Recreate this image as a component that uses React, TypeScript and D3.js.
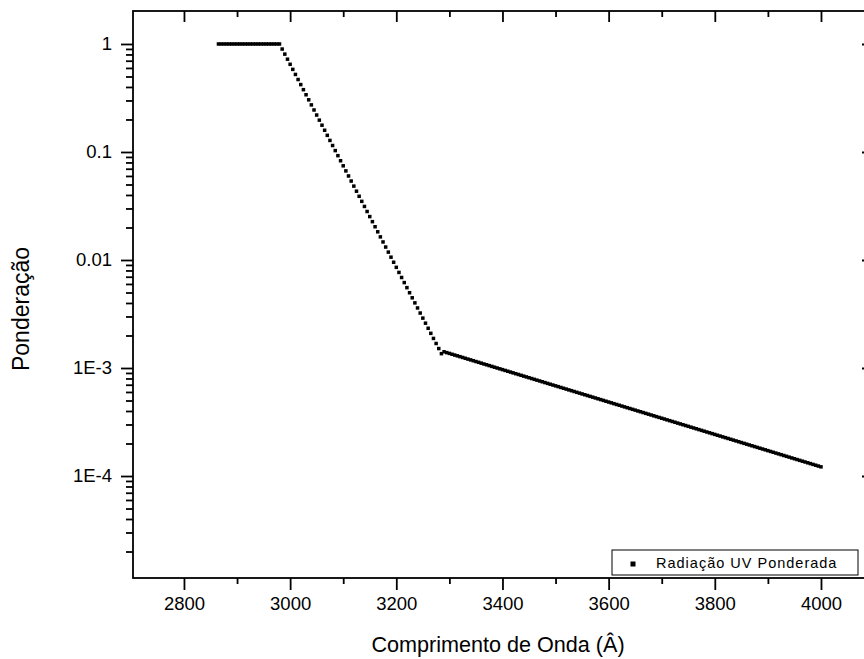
import React from 'react';
import * as d3 from 'd3';

const width = 864;
const height = 659;
const plot = {left: 133, right: 873, top: 11, bottom: 578};
const font = '"Liberation Sans", Arial, sans-serif';

// wavelength (Å) and weighting
const flatWavelengths = [
  2865, 2870, 2875, 2880, 2885, 2890, 2895, 2900, 2905, 2910, 2915, 2920,
  2925, 2930, 2935, 2940, 2945, 2950, 2955, 2960, 2965, 2970, 2975, 2980,
];
const flatWeights = [
  1, 1, 1, 1, 1, 1, 1, 1, 1, 1, 1, 1,
  1, 1, 1, 1, 1, 1, 1, 1, 1, 1, 1, 1,
];

const steepWavelengths = [
  2985, 2990, 2995, 3000, 3005, 3010, 3015, 3020, 3025, 3030,
  3035, 3040, 3045, 3050, 3055, 3060, 3065, 3070, 3075, 3080,
  3085, 3090, 3095, 3100, 3105, 3110, 3115, 3120, 3125, 3130,
  3135, 3140, 3145, 3150, 3155, 3160, 3165, 3170, 3175, 3180,
  3185, 3190, 3195, 3200, 3205, 3210, 3215, 3220, 3225, 3230,
  3235, 3240, 3245, 3250, 3255, 3260, 3265, 3270, 3275, 3280,
  3285,
];
const steepWeights = [
  0.8974, 0.8054, 0.7228, 0.6486, 0.5821, 0.5224, 0.4688, 0.4207, 0.3776, 0.3388,
  0.3041, 0.2729, 0.2449, 0.2198, 0.1972, 0.1770, 0.1589, 0.1426, 0.1279, 0.1148,
  0.1030, 0.09247, 0.08299, 0.07447, 0.06683, 0.05998, 0.05383, 0.04831, 0.04335, 0.03890,
  0.03491, 0.03133, 0.02812, 0.02523, 0.02265, 0.02032, 0.01824, 0.01637, 0.01469, 0.01318,
  0.01183, 0.01062, 0.009528, 0.008551, 0.007674, 0.006887, 0.006180, 0.005546, 0.004977, 0.004467,
  0.004009, 0.003597, 0.003228, 0.002897, 0.002600, 0.002333, 0.002094, 0.001879, 0.001687, 0.001514,
  0.001358,
];

const tailWavelengths = [
  3290, 3295, 3300, 3305, 3310, 3315, 3320, 3325, 3330, 3335,
  3340, 3345, 3350, 3355, 3360, 3365, 3370, 3375, 3380, 3385,
  3390, 3395, 3400, 3405, 3410, 3415, 3420, 3425, 3430, 3435,
  3440, 3445, 3450, 3455, 3460, 3465, 3470, 3475, 3480, 3485,
  3490, 3495, 3500, 3505, 3510, 3515, 3520, 3525, 3530, 3535,
  3540, 3545, 3550, 3555, 3560, 3565, 3570, 3575, 3580, 3585,
  3590, 3595, 3600, 3605, 3610, 3615, 3620, 3625, 3630, 3635,
  3640, 3645, 3650, 3655, 3660, 3665, 3670, 3675, 3680, 3685,
  3690, 3695, 3700, 3705, 3710, 3715, 3720, 3725, 3730, 3735,
  3740, 3745, 3750, 3755, 3760, 3765, 3770, 3775, 3780, 3785,
  3790, 3795, 3800, 3805, 3810, 3815, 3820, 3825, 3830, 3835,
  3840, 3845, 3850, 3855, 3860, 3865, 3870, 3875, 3880, 3885,
  3890, 3895, 3900, 3905, 3910, 3915, 3920, 3925, 3930, 3935,
  3940, 3945, 3950, 3955, 3960, 3965, 3970, 3975, 3980, 3985,
  3990, 3995, 4000,
];
const tailWeights = [
  14.13e-4, 13.88e-4, 13.65e-4, 13.41e-4, 13.18e-4, 12.96e-4, 12.74e-4, 12.52e-4, 12.30e-4, 12.09e-4,
  11.89e-4, 11.68e-4, 11.48e-4, 11.29e-4, 11.09e-4, 10.90e-4, 10.72e-4, 10.53e-4, 10.35e-4, 10.17e-4,
  10.00e-4, 9.829e-4, 9.661e-4, 9.495e-4, 9.333e-4, 9.173e-4, 9.016e-4, 8.861e-4, 8.710e-4, 8.561e-4,
  8.414e-4, 8.270e-4, 8.128e-4, 7.989e-4, 7.852e-4, 7.718e-4, 7.586e-4, 7.456e-4, 7.328e-4, 7.203e-4,
  7.079e-4, 6.958e-4, 6.839e-4, 6.722e-4, 6.607e-4, 6.493e-4, 6.382e-4, 6.273e-4, 6.166e-4, 6.060e-4,
  5.957e-4, 5.855e-4, 5.755e-4, 5.656e-4, 5.559e-4, 5.464e-4, 5.371e-4, 5.279e-4, 5.188e-4, 5.100e-4,
  5.012e-4, 4.926e-4, 4.842e-4, 4.759e-4, 4.677e-4, 4.597e-4, 4.519e-4, 4.441e-4, 4.365e-4, 4.291e-4,
  4.217e-4, 4.145e-4, 4.074e-4, 4.004e-4, 3.936e-4, 3.868e-4, 3.802e-4, 3.737e-4, 3.673e-4, 3.610e-4,
  3.548e-4, 3.487e-4, 3.428e-4, 3.369e-4, 3.311e-4, 3.254e-4, 3.199e-4, 3.144e-4, 3.090e-4, 3.037e-4,
  2.985e-4, 2.934e-4, 2.884e-4, 2.834e-4, 2.786e-4, 2.738e-4, 2.691e-4, 2.645e-4, 2.600e-4, 2.555e-4,
  2.512e-4, 2.469e-4, 2.427e-4, 2.385e-4, 2.344e-4, 2.304e-4, 2.265e-4, 2.226e-4, 2.188e-4, 2.150e-4,
  2.113e-4, 2.077e-4, 2.041e-4, 2.006e-4, 1.972e-4, 1.938e-4, 1.905e-4, 1.872e-4, 1.840e-4, 1.809e-4,
  1.778e-4, 1.748e-4, 1.718e-4, 1.688e-4, 1.659e-4, 1.631e-4, 1.603e-4, 1.576e-4, 1.549e-4, 1.522e-4,
  1.496e-4, 1.470e-4, 1.445e-4, 1.420e-4, 1.396e-4, 1.372e-4, 1.349e-4, 1.326e-4, 1.303e-4, 1.281e-4,
  1.259e-4, 1.237e-4, 1.216e-4,
];

const xTicks = [2800, 3000, 3200, 3400, 3600, 3800, 4000];
const xMinorTicks = [2900, 3100, 3300, 3500, 3700, 3900];
const yTicks = [1, 0.1, 0.01, 0.001, 0.0001];
const yTickLabels = ['1', '0.1', '0.01', '1E-3', '1E-4'];
const yMinorTicks = [
  2e-5, 3e-5, 4e-5, 5e-5, 6e-5, 7e-5, 8e-5, 9e-5,
  2e-4, 3e-4, 4e-4, 5e-4, 6e-4, 7e-4, 8e-4, 9e-4,
  2e-3, 3e-3, 4e-3, 5e-3, 6e-3, 7e-3, 8e-3, 9e-3,
  0.02, 0.03, 0.04, 0.05, 0.06, 0.07, 0.08, 0.09,
  0.2, 0.3, 0.4, 0.5, 0.6, 0.7, 0.8, 0.9,
];

const xLabel = 'Comprimento de Onda (Â)';
const yLabel = 'Ponderação';
const seriesName = 'Radiação UV Ponderada';

const App: React.FC = () => {
  const bottomRef = React.useRef<SVGGElement>(null);
  const bottomMinorRef = React.useRef<SVGGElement>(null);
  const topRef = React.useRef<SVGGElement>(null);
  const topMinorRef = React.useRef<SVGGElement>(null);
  const leftRef = React.useRef<SVGGElement>(null);
  const leftMinorRef = React.useRef<SVGGElement>(null);
  const rightRef = React.useRef<SVGGElement>(null);

  const xScale = d3.scaleLinear()
    .domain([2704, 4098])
    .range([plot.left, plot.right]);

  const yScale = d3.scaleLog()
    .domain([1.137e-5, 2.02])
    .range([plot.bottom, plot.top]);

  const points = [
    ...flatWavelengths.map((w, i) => [w, flatWeights[i]]),
    ...steepWavelengths.map((w, i) => [w, steepWeights[i]]),
    ...tailWavelengths.map((w, i) => [w, tailWeights[i]]),
  ];

  React.useEffect(() => {
    const style = (g: d3.Selection<SVGGElement, unknown, null, undefined>) => {
      g.select('.domain').remove();
      g.selectAll('line').attr('stroke', '#000').attr('stroke-width', 1.8);
      g.selectAll('text')
        .attr('fill', '#000')
        .style('font-family', font)
        .style('font-size', '18.5px');
    };

    const bottom = d3.select(bottomRef.current!);
    bottom.call(d3.axisBottom(xScale).tickValues(xTicks).tickSize(12).tickPadding(7)
      .tickFormat(d => `${d}`));
    style(bottom);

    const bottomMinor = d3.select(bottomMinorRef.current!);
    bottomMinor.call(d3.axisBottom(xScale).tickValues(xMinorTicks).tickSize(6).tickFormat(() => ''));
    style(bottomMinor);

    const top = d3.select(topRef.current!);
    top.call(d3.axisTop(xScale).tickValues(xTicks).tickSize(-11).tickFormat(() => ''));
    style(top);

    const topMinor = d3.select(topMinorRef.current!);
    topMinor.call(d3.axisTop(xScale).tickValues(xMinorTicks).tickSize(-6).tickFormat(() => ''));
    style(topMinor);

    const left = d3.select(leftRef.current!);
    left.call(d3.axisLeft(yScale).tickValues(yTicks).tickSize(12).tickPadding(9)
      .tickFormat((d, i) => yTickLabels[i]));
    style(left);

    const leftMinor = d3.select(leftMinorRef.current!);
    leftMinor.call(d3.axisLeft(yScale).tickValues(yMinorTicks).tickSize(7).tickFormat(() => ''));
    style(leftMinor);

    const right = d3.select(rightRef.current!);
    right.call(d3.axisRight(yScale).tickValues(yTicks).tickSize(-11).tickFormat(() => ''));
    style(right);
  }, []);

  const marker = 3.5;

  return (
    <svg width={width} height={height} style={{position: 'absolute', left: 0, top: 0, background: '#fff'}}>
      <rect x={0} y={0} width={width} height={height} fill='#fff' />

      <g>
        {points.map(([w, v], i) => (
          <rect key={i}
            x={xScale(w) - marker / 2}
            y={yScale(v) - marker / 2}
            width={marker}
            height={marker}
            fill='#000' />
        ))}
      </g>

      <rect x={plot.left} y={plot.top} width={plot.right - plot.left} height={plot.bottom - plot.top}
        fill='none' stroke='#000' strokeWidth={1.8} />

      <g ref={bottomRef} transform={`translate(0, ${plot.bottom})`} />
      <g ref={bottomMinorRef} transform={`translate(0, ${plot.bottom})`} />
      <g ref={topRef} transform={`translate(0, ${plot.top})`} />
      <g ref={topMinorRef} transform={`translate(0, ${plot.top})`} />
      <g ref={leftRef} transform={`translate(${plot.left}, 0)`} />
      <g ref={leftMinorRef} transform={`translate(${plot.left}, 0)`} />
      <g ref={rightRef} transform={`translate(${plot.right}, 0)`} />

      <g transform='translate(612, 550)'>
        <rect x={0} y={0} width={246} height={25} fill='#fff' stroke='#000' strokeWidth={1} />
        <rect x={18.5} y={11.5} width={5} height={5} fill='#000' />
        <text x={44} y={18} fontFamily={font} fontSize={14.5} letterSpacing={1} fill='#000'>
          {seriesName}
        </text>
      </g>

      <text x={498} y={652} textAnchor='middle' fontFamily={font} fontSize={21.6} fill='#000'>
        {xLabel}
      </text>
      <text transform='translate(29, 309) rotate(-90)' textAnchor='middle' fontFamily={font} fontSize={23} fill='#000'>
        {yLabel}
      </text>
    </svg>
  );
};

export default App;
